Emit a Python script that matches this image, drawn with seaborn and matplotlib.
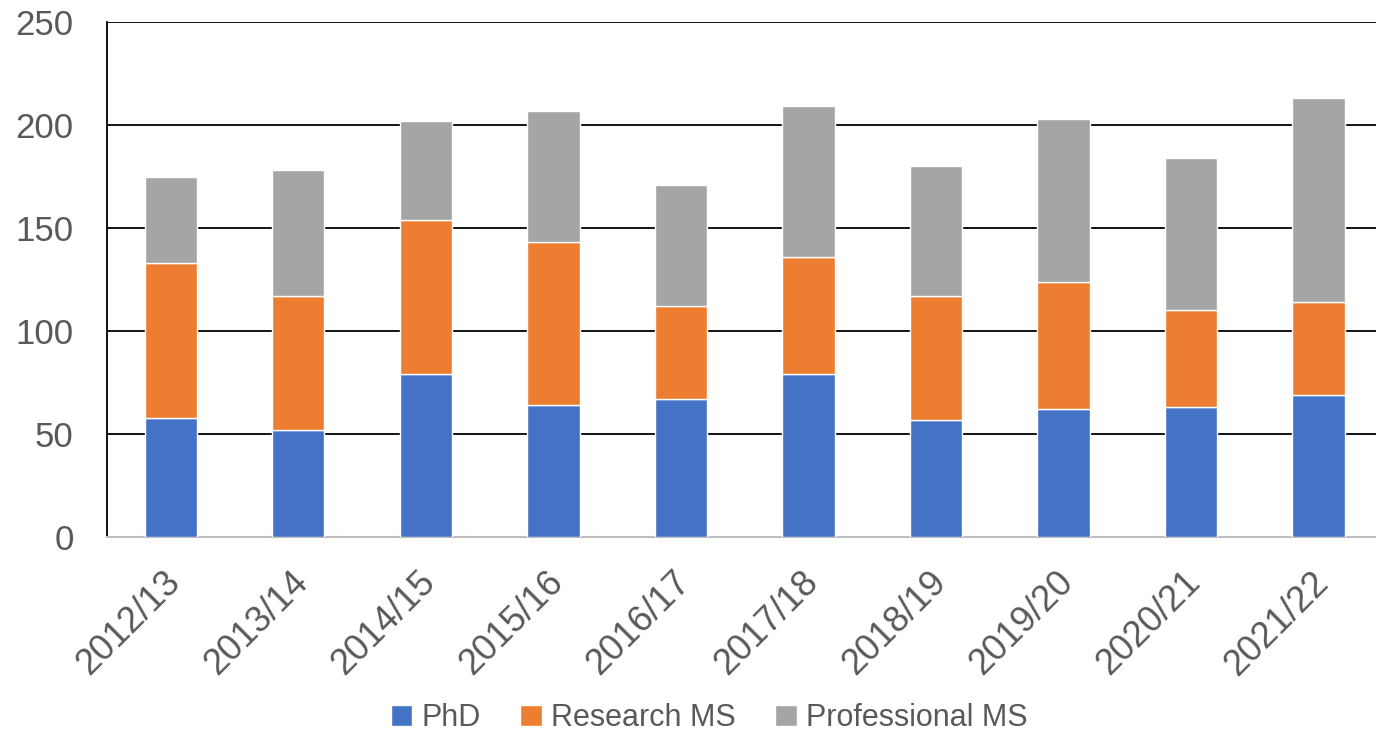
import numpy as np
import pandas as pd
import seaborn as sns
import matplotlib.pyplot as plt
import matplotlib.transforms as mtransforms
from matplotlib.patches import Patch

years = ["2012/13", "2013/14", "2014/15", "2015/16", "2016/17",
         "2017/18", "2018/19", "2019/20", "2020/21", "2021/22"]
phd = [58, 52, 79, 64, 67, 79, 57, 62, 63, 69]
research_ms = [75, 65, 75, 79, 45, 57, 60, 62, 47, 45]
professional_ms = [42, 61, 48, 64, 59, 73, 63, 79, 74, 99]

series = ["PhD", "Research MS", "Professional MS"]
colors = ["#4472C4", "#ED7D31", "#A5A5A5"]
text_col = "#595959"

df = pd.DataFrame({"year": years, "PhD": phd,
                   "Research MS": research_ms,
                   "Professional MS": professional_ms})

sns.set_theme(style="white")
plt.rcParams['font.family'] = ['Liberation Sans', 'DejaVu Sans']

fig = plt.figure(figsize=(13.76, 7.36), dpi=100)
ax = fig.add_axes([107 / 1376, 1 - 537 / 736, 1 - 107 / 1376, (537 - 22) / 736])

# stacked bars: draw each layer on top of the previous ones
bottom = np.zeros(len(years))
for name, col in zip(series, colors):
    sns.barplot(data=df, x="year", y=name, color=col, width=0.41,
                bottom=bottom, saturation=1, ax=ax, zorder=3)
    bottom = bottom + df[name].to_numpy()

ax.set_ylim(0, 250)
ax.set_xlim(-0.5, 9.45)
ax.set_yticks([0, 50, 100, 150, 200, 250])
ax.yaxis.grid(True, color="black", linewidth=1.3, zorder=0)
ax.set_axisbelow(True)
ax.set_xlabel("")
ax.set_ylabel("")

for s in ["top", "right"]:
    ax.spines[s].set_visible(False)
ax.spines["left"].set_color("black")
ax.spines["left"].set_linewidth(1.3)
ax.spines["bottom"].set_color("#BFBFBF")
ax.spines["bottom"].set_linewidth(1.5)

ax.tick_params(axis="y", labelsize=25, labelcolor=text_col, length=0, pad=24)
ax.tick_params(axis="x", labelsize=26, labelcolor=text_col, length=0, pad=20)
shift = mtransforms.ScaledTranslation(-8 / 100, 0, fig.dpi_scale_trans)
for lbl in ax.get_xticklabels():
    lbl.set_rotation(45)
    lbl.set_ha("right")
    lbl.set_rotation_mode("anchor")
    lbl.set_transform(lbl.get_transform() + shift)

handles = [Patch(facecolor=c, label=n) for n, c in zip(series, colors)]
fig.legend(handles=handles, loc="center", bbox_to_anchor=(709 / 1376, 1 - 718 / 736),
           ncol=3, frameon=False, fontsize=22, labelcolor=text_col,
           handlelength=0.7, handleheight=0.7, handletextpad=0.3, columnspacing=1.3)

plt.savefig("out.png", dpi=100)
